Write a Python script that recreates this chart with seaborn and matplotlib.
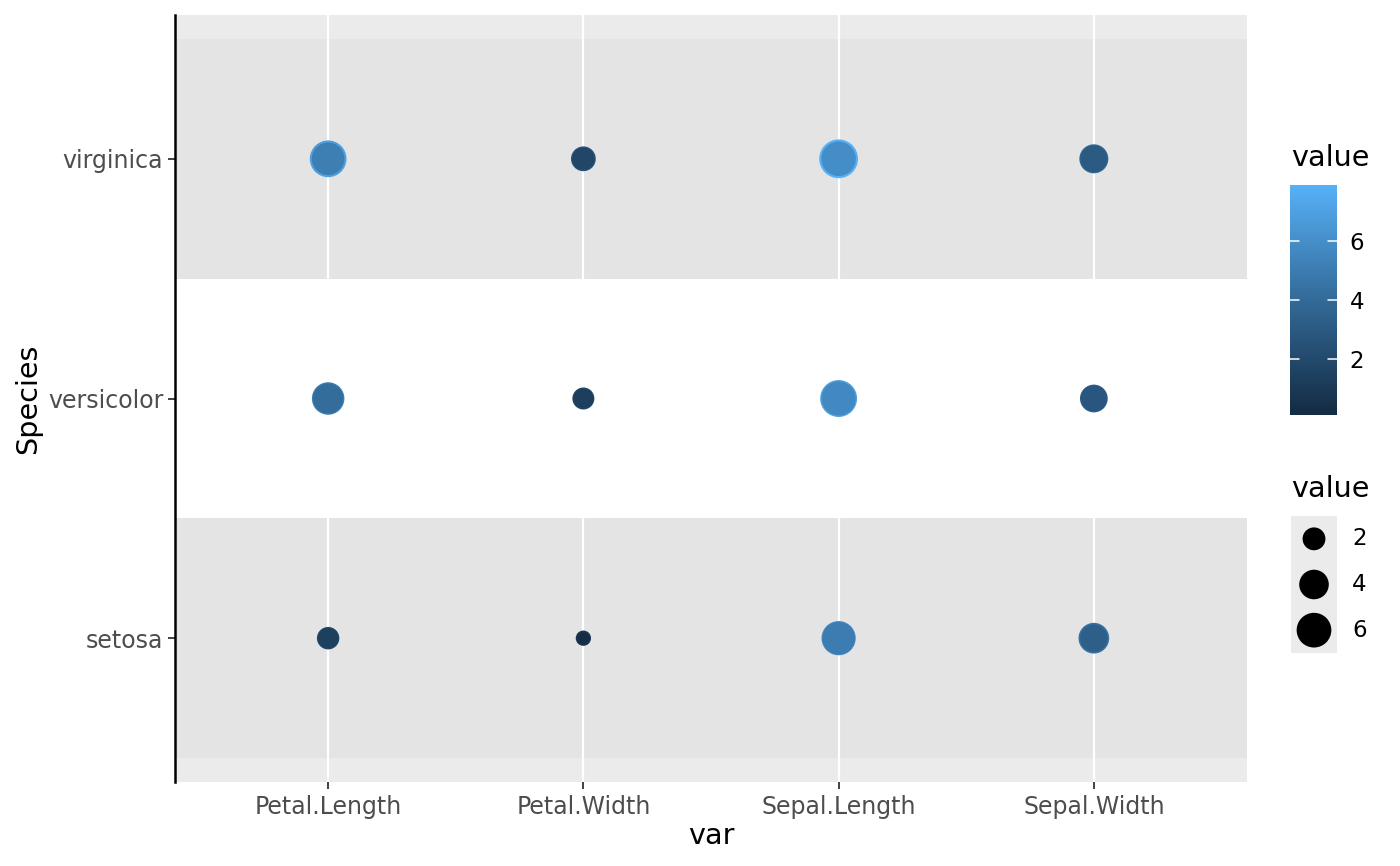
import numpy as np
import pandas as pd
import matplotlib
matplotlib.use("Agg")
import matplotlib.pyplot as plt
import seaborn as sns
from matplotlib.colors import LinearSegmentedColormap, Normalize
from matplotlib.cm import ScalarMappable

sns.set_style("white")
plt.rcParams['font.family'] = ['DejaVu Sans']
plt.rcParams['text.color'] = 'black'
plt.rcParams['axes.labelcolor'] = 'black'

# iris points drawn on top of each other: only the biggest one (outline)
# and the last drawn one (top colour) are visible per cell
species = ["setosa", "versicolor", "virginica"]
variables = ["Petal.Length", "Petal.Width", "Sepal.Length", "Sepal.Width"]
outer_setosa = [1.9, 0.6, 5.8, 4.4]
outer_versicolor = [5.1, 1.8, 7.0, 3.4]
outer_virginica = [6.9, 2.5, 7.9, 3.8]
top_setosa = [1.4, 0.2, 5.0, 3.3]
top_versicolor = [4.1, 1.3, 5.7, 2.8]
top_virginica = [5.1, 1.8, 5.9, 3.0]
value_range = (0.1, 7.9)
legend_breaks = [2, 4, 6]


def make_df(rows):
    recs = []
    for sp, vals in zip(species, rows):
        for v, val in zip(variables, vals):
            recs.append({"Species": sp, "var": v, "value": val})
    return pd.DataFrame(recs)


outer_df = make_df([outer_setosa, outer_versicolor, outer_virginica])
top_df = make_df([top_setosa, top_versicolor, top_virginica])


def area(v):
    # ggplot-like area scale, size range 1..6
    lo, hi = value_range
    size = 1 + 5 * np.sqrt((v - lo) / (hi - lo))
    d_px = 6.3 * size + 1
    return (d_px * 72 / 100) ** 2


cmap = LinearSegmentedColormap.from_list("gg", ["#132B43", "#336A98", "#56B1F7"])
norm = Normalize(*value_range)

fig = plt.figure(figsize=(14, 8.66), dpi=100)
ax = fig.add_axes([175 / 1400, 1 - 782 / 866, 1072 / 1400, 767 / 866])
ax.set_facecolor("#EBEBEB")

for df in [outer_df, top_df]:
    sizes = {v: area(v) for v in df["value"].unique()}
    sns.scatterplot(data=df, x="var", y="Species", hue="value", size="value",
                    sizes=sizes, palette=cmap, hue_norm=value_range,
                    linewidth=0, legend=False, ax=ax, zorder=3)

# species bands
ax.axhspan(-0.5, 0.5, color="#E4E4E4", zorder=0.3, lw=0)
ax.axhspan(0.5, 1.5, color="white", zorder=0.3, lw=0)
ax.axhspan(1.5, 2.5, color="#E4E4E4", zorder=0.3, lw=0)

ax.set_xlim(-0.6, 3.6)
ax.set_ylim(-0.6, 2.6)
ax.set_axisbelow(True)
ax.grid(False)
ax.xaxis.grid(True, color="white", linewidth=1.6)

for s in ["top", "right", "bottom"]:
    ax.spines[s].set_visible(False)
ax.spines["left"].set_color("black")
ax.spines["left"].set_linewidth(1.8)

ax.tick_params(axis="both", which="major", length=5, width=1.3, color="#333333",
               labelcolor="#4D4D4D", labelsize=17)
ax.tick_params(axis="x", pad=4.5, bottom=True)
ax.tick_params(axis="y", pad=3.5, left=True)

ax.set_xlabel("var", fontsize=20.6, va="center")
ax.xaxis.set_label_coords(0.5, -(836 - 782) / 767)
ax.set_ylabel("Species", fontsize=20.6, va="center")
ax.yaxis.set_label_coords((28 - 175) / 1072, 0.5)

# colour legend
cax = fig.add_axes([1290 / 1400, 1 - 415 / 866, 47 / 1400, 230 / 866])
cb = fig.colorbar(ScalarMappable(norm=norm, cmap=cmap), cax=cax, ticks=legend_breaks)
cb.outline.set_visible(False)
cax.tick_params(length=0, labelsize=16.5, labelcolor="black", pad=9,
                labelleft=False, labelright=True)
# white inner ticks on both sides of the bar
tr = cax.get_yaxis_transform()
for b in legend_breaks:
    cax.plot([0, 0.2], [b, b], color="white", lw=1.1, transform=tr, zorder=5)
    cax.plot([0.8, 1], [b, b], color="white", lw=1.1, transform=tr, zorder=5)
fig.text(1291 / 1400, 1 - 158 / 866, "value", fontsize=20.6, va="center", ha="left")

# size legend
sax = fig.add_axes([1291 / 1400, 1 - 653 / 866, 46 / 1400, 137 / 866])
sax.set_facecolor("#EBEBEB")
key_y = [2.5, 1.5, 0.5]
sax.scatter([0.5] * 3, key_y, s=[area(b) for b in legend_breaks], color="black", linewidth=0)
sax.set_xlim(0, 1)
sax.set_ylim(0, 3)
sax.set_xticks([])
sax.set_yticks([])
for s in sax.spines.values():
    s.set_visible(False)
for b, yy in zip(legend_breaks, key_y):
    sax.text(1.33, yy, str(b), fontsize=16.5, va="center", ha="left",
             transform=sax.transData, clip_on=False)
fig.text(1291 / 1400, 1 - 489 / 866, "value", fontsize=20.6, va="center", ha="left")

fig.savefig("out.png", dpi=100)
